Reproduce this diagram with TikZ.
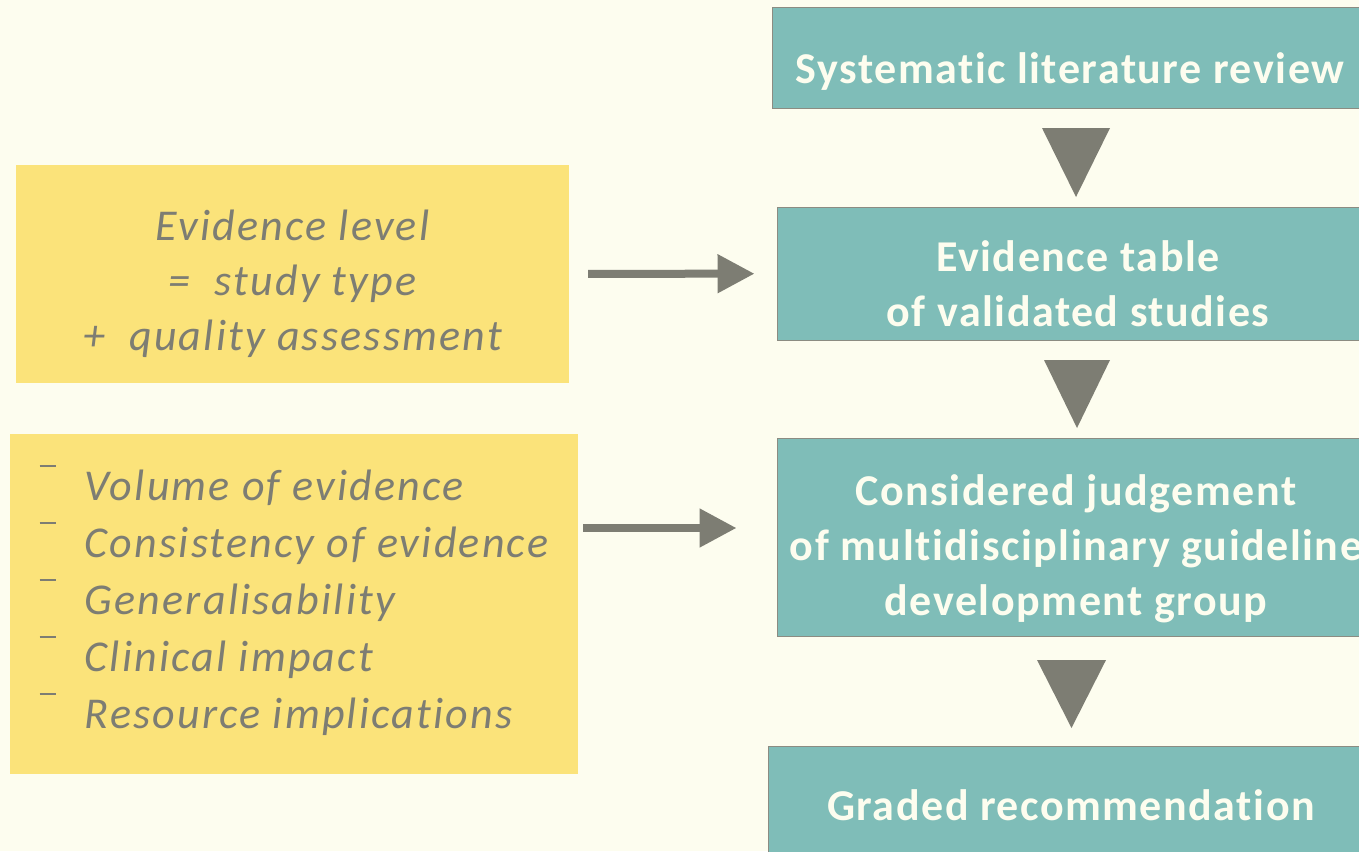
\documentclass[tikz,border=0pt]{standalone}
\usepackage{fontspec}
\setmainfont{Carlito}
\newfontfamily\stepfont[LetterSpace=3.5,Ligatures=NoCommon]{Carlito}
\newfontfamily\notefont[LetterSpace=5,Ligatures=NoCommon]{Carlito}
\usetikzlibrary{arrows.meta, positioning}
\definecolor{paper}{HTML}{FDFDEF}
\definecolor{noteyellow}{HTML}{FBE37A}
\definecolor{stepteal}{HTML}{7FBDB8}
\definecolor{edgegray}{HTML}{8C8C82}
\definecolor{inkgray}{HTML}{7D7D73}
\newcommand{\dashmark}{\makebox[45pt][l]{\smash{\raisebox{33pt}{\rule{16pt}{2.5pt}}}}}

\begin{document}
\begin{tikzpicture}[x=1pt, y=-1pt,
    stepbox/.style={draw=edgegray, line width=1pt, fill=stepteal, text=paper,
        font=\stepfont\fontsize{44}{55}\selectfont\bfseries, align=center,
        inner sep=0pt, text depth=0pt},
    notebox/.style={fill=noteyellow, text=inkgray,
        font=\notefont\fontsize{44}{55}\selectfont\itshape, inner sep=0pt, text depth=0pt},
    flow/.style={inkgray, line width=8pt, -{Triangle[width=37pt,length=37pt]}}]

    \useasboundingbox (0,0) rectangle (1359,851);
    \clip (0,0) rectangle (1359,851);
    \fill[paper] (0,0) rectangle (1359,851);

    % steps on the right
    \node (rev) [stepbox, minimum width=596pt, minimum height=100pt, text height=50pt] at (1070,58) {Systematic literature review};
    \node (tab) [stepbox, minimum width=602pt, minimum height=133pt, text height=105pt] at (1078,273.5) {Evidence table\\of validated studies};
    \node (jdg) [stepbox, minimum width=598pt, minimum height=198pt, text height=156pt] at (1076,537) {Considered judgement\\of multidisciplinary guideline\\development group};
    \node (rec) [stepbox, minimum width=606pt, minimum height=120pt, text height=28pt] at (1071,806) {Graded recommendation};

    % down triangles
    \fill[inkgray] (1042,128) -- (1110,128) -- (1076,197) -- cycle;
    \fill[inkgray] (1044,360) -- (1110,360) -- (1077,428) -- cycle;
    \fill[inkgray] (1037,660) -- (1106,660) -- (1071.5,728) -- cycle;

    % notes on the left
    \node (lvl) [notebox, minimum width=553pt, minimum height=218pt, align=center, text height=152pt] at (292.5,274)
        {Evidence level\\=\ \ study type\\+\ \ quality assessment};
    \node (fac) [notebox, minimum width=568pt, minimum height=340pt, align=left, text height=248pt,
        font=\notefont\fontsize{44}{57}\selectfont\itshape] at (294,604)
        {\dashmark Volume of evidence\\\dashmark Consistency of evidence\\\dashmark Generalisability\\\dashmark Clinical impact\\\dashmark Resource implications};

    \draw[flow, shorten <=19pt, shorten >=22pt] (lvl) -- (tab);
    \draw[flow, shorten <=5pt, shorten >=40pt] ([yshift=9pt]fac.east |- jdg.west) -- ([yshift=9pt]jdg.west);

\end{tikzpicture}
\end{document}
